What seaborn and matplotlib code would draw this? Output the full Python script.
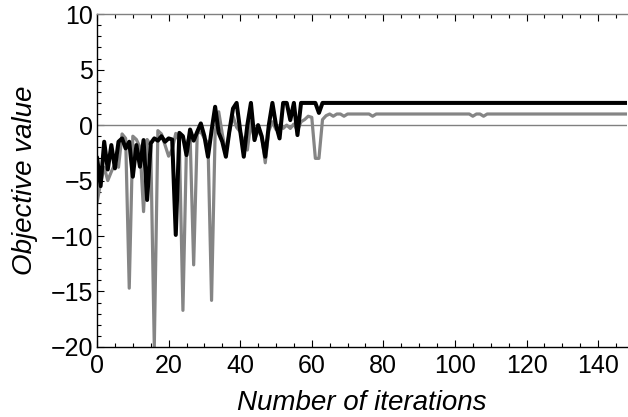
import pandas as pd
import seaborn as sns
import matplotlib.pyplot as plt
from matplotlib.ticker import MultipleLocator

# Objective value per iteration
black_head = [
    -2.9, -5.5, -1.5, -4.0, -1.8, -3.9, -1.5, -1.2, -2.1, -1.5,
    -4.65, -1.8, -3.75, -1.35, -6.75, -1.65, -1.2, -1.4, -1.0, -1.5,
    -1.2, -1.3, -9.9, -0.7, -1.0, -2.7, -0.4, -1.4, -0.6, 0.15,
    -1.0, -2.85, -0.5, 1.65, -0.7, -1.5, -2.85, -0.5, 1.5, 2.0,
    -0.5, -2.85, 0.0, 2.0, -1.35, 0.0, -1.0, -2.85, 0.0, 2.0,
    0.0, -1.2, 2.0, 2.0, 0.45, 2.0, -0.9, 2.0, 2.0, 2.0,
    2.0, 2.0, 1.1, 2.0,
]
black_tail = [2.0] * 85

gray_head = [
    -7.0, -5.2, -3.8, -5.0, -4.2, -3.5, -3.8, -0.8, -1.2, -14.7,
    -1.0, -1.3, -2.0, -7.8, -1.3, -1.8, -20.0, -0.5, -0.8, -1.8,
    -2.8, -2.2, -0.75, -1.5, -16.7, -1.7, -0.9, -12.6, -0.75, -0.6,
    -1.2, -1.6, -15.8, -0.6, 1.2, -0.8, -2.5, -0.6, 0.8, -0.2,
    -0.6, -1.5, -2.25, 0.3, -1.35, -0.5, -1.0, -3.4, -0.5, 0.3,
    -0.4, 0.0, -0.3, 0.0, -0.3, 0.1, -0.5, 0.3, 0.5, 0.8,
    0.7, -3.0, -3.0, 0.5,
]
gray_tail = ([0.85, 1.0, 0.8, 1.0, 1.0, 0.8, 1.0] + [1.0] * 6 + [0.8]
             + [1.0] * 27 + [0.8, 1.0, 1.0, 0.8] + [1.0] * 40)

black = black_head + black_tail
gray = gray_head + gray_tail
iterations = list(range(len(black)))

df = pd.DataFrame({"iteration": iterations, "gray": gray, "black": black})

sns.set_style("ticks")
plt.rcParams["font.family"] = ["Liberation Sans", "DejaVu Sans"]
plt.rcParams.update({"text.color": "black", "axes.labelcolor": "black",
                     "xtick.color": "black", "ytick.color": "black"})

fig = plt.figure(figsize=(6.28, 4.17), dpi=100)
ax = fig.add_axes([0.1545, 0.168, 0.8435, 0.798])

ax.axhline(0, color="#808080", lw=1.0, zorder=1)
sns.lineplot(data=df, x="iteration", y="gray", color="#858585", lw=2.3, ax=ax)
sns.lineplot(data=df, x="iteration", y="black", color="black", lw=2.9, ax=ax)

ax.set_xlim(0, 148)
ax.set_ylim(-20, 10)
ax.xaxis.set_major_locator(MultipleLocator(20))
ax.xaxis.set_minor_locator(MultipleLocator(5))
ax.yaxis.set_major_locator(MultipleLocator(5))
ax.yaxis.set_minor_locator(MultipleLocator(1))

ax.tick_params(which="both", direction="in", top=True, right=False,
               labelsize=18, width=0.8)
ax.tick_params(which="major", length=5)
ax.tick_params(which="minor", length=3)
ax.tick_params(axis="x", pad=5)
ax.tick_params(axis="y", pad=3)

for side in ["left", "bottom"]:
    ax.spines[side].set_color("black")
    ax.spines[side].set_linewidth(1.0)
ax.spines["top"].set_color("#808080")
ax.spines["top"].set_linewidth(1.0)
ax.spines["right"].set_visible(False)

ax.set_xlabel("Number of iterations", fontsize=20, fontstyle="italic")
ax.set_ylabel("Objective value", fontsize=20, fontstyle="italic")
ax.xaxis.set_label_coords(0.5, -0.13)
ax.yaxis.set_label_coords(-0.112, 0.5)

plt.savefig("out.png", dpi=100)
